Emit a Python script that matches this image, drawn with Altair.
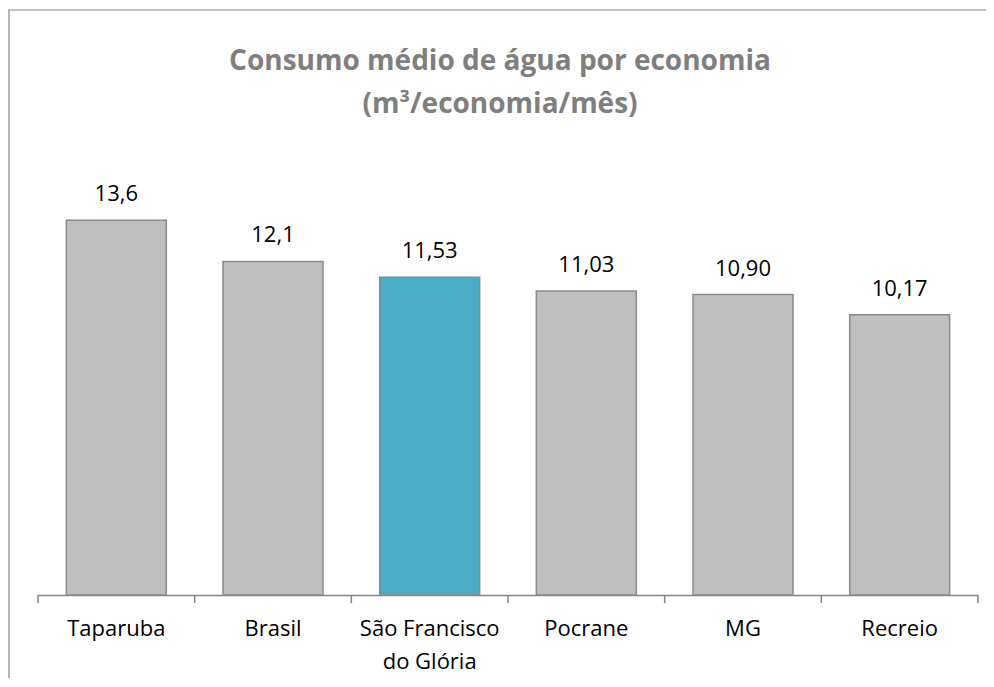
import altair as alt
import pandas as pd

categories = ["Taparuba", "Brasil", "São Francisco|do Glória", "Pocrane", "MG", "Recreio"]
values = [13.6, 12.1, 11.53, 11.03, 10.90, 10.17]
value_labels = ["13,6", "12,1", "11,53", "11,03", "10,90", "10,17"]
highlight = [False, False, True, False, False, False]
title_lines = ["Consumo médio de água por economia", "(m³/economia/mês)"]

df = pd.DataFrame({
    "cat": categories,
    "val": values,
    "lab": value_labels,
    "hl": highlight,
})

FONT = "Open Sans"
AXIS_GRAY = "#868686"
PLOT_W = 940
PLOT_H = 441
PAD_INNER = 0.362
PAD_OUTER = PAD_INNER / 2
STEP = PLOT_W / (len(categories) - PAD_INNER + 2 * PAD_OUTER)
HALF_GAP_PX = STEP * PAD_INNER / 2

x_scale = alt.Scale(paddingInner=PAD_INNER, paddingOuter=PAD_OUTER)
x_axis = alt.Axis(
    title=None,
    labelAngle=0,
    labelFont=FONT,
    labelFontSize=22,
    labelColor="#000000",
    labelPadding=23,
    labelLineHeight=33,
    labelExpr="split(datum.label, '|')",
    ticks=False,
    domainColor=AXIS_GRAY,
    domainWidth=1.5,
    grid=False,
)


def xenc(band=None):
    if band is None:
        return alt.X("cat:N", sort=categories, scale=x_scale, axis=x_axis)
    return alt.X("cat:N", sort=categories, scale=x_scale, axis=x_axis, bandPosition=band)


y_enc = alt.Y("val:Q", scale=alt.Scale(domain=[0, 16]), axis=None)

bars = alt.Chart(df).mark_bar(stroke="#8a8a8a", strokeWidth=1.5).encode(
    x=xenc(),
    y=y_enc,
    color=alt.Color(
        "hl:N",
        scale=alt.Scale(domain=[False, True], range=["#BFBFBF", "#4BACC6"]),
        legend=None,
    ),
)

labels = alt.Chart(df).mark_text(
    font=FONT, fontSize=22, color="#000000", baseline="alphabetic", dy=-19
).encode(x=xenc(), y=y_enc, text="lab:N")

# category separator ticks below the axis line (between bands, plus the final band end)
ticks_start = alt.Chart(df).mark_rule(
    color=AXIS_GRAY, strokeWidth=1.5, xOffset=-HALF_GAP_PX
).encode(x=xenc(0), y=alt.value(PLOT_H), y2=alt.value(PLOT_H + 8))
ticks_end = alt.Chart(df.tail(1)).mark_rule(
    color=AXIS_GRAY, strokeWidth=1.5, xOffset=HALF_GAP_PX
).encode(x=xenc(1), y=alt.value(PLOT_H), y2=alt.value(PLOT_H + 8))

frame = alt.Chart(alt.Data(values=[{"k": 1}])).mark_rect(
    fill=None, stroke=AXIS_GRAY, strokeWidth=1.2
).encode(
    x=alt.value(-29), x2=alt.value(1000), y=alt.value(-144), y2=alt.value(700)
)

title1 = alt.Chart(alt.Data(values=[{"t": title_lines[0]}])).mark_text(
    font=FONT, fontSize=28, fontWeight="bold", color="#7F7F7F", align="center", baseline="alphabetic"
).encode(text="t:N", x=alt.value(462), y=alt.value(70 - 154))
title2 = alt.Chart(alt.Data(values=[{"t": title_lines[1]}])).mark_text(
    font=FONT, fontSize=28, fontWeight="bold", color="#7F7F7F", align="center", baseline="alphabetic"
).encode(text="t:N", x=alt.value(462), y=alt.value(113 - 154))

chart = alt.layer(frame, bars, labels, ticks_start, ticks_end, title1, title2).properties(
    width=PLOT_W,
    height=PLOT_H,
    autosize=alt.AutoSizeParams(type="none"),
    padding={"left": 30, "top": 146, "right": 8, "bottom": 83},
).configure_view(stroke=None)

chart.save("out.html", embed_options={"renderer": "svg", "actions": False})
